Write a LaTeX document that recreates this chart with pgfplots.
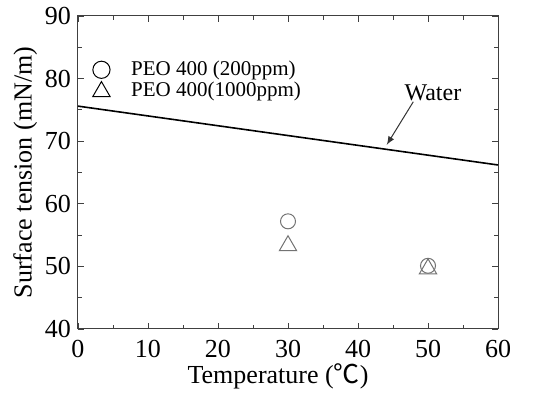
\documentclass[border=0pt]{standalone}
\usepackage{fontspec}
\setmainfont{Liberation Serif}
\newfontfamily\cjk{Noto Sans CJK SC}
\usepackage{pgfplots}
\pgfplotsset{compat=1.18}
\begin{document}
\begin{tikzpicture}
\begin{axis}[
  scale only axis,
  width=210pt, height=156.5pt,
  xmin=0, xmax=60, ymin=40, ymax=90,
  xtick={0,10,...,60}, ytick={40,50,...,90},
  minor x tick num=1, minor y tick num=1,
  tick align=inside,
  major tick length=3pt, minor tick length=2pt,
  axis line style={black!75, line width=0.5pt},
  every tick/.style={black!75, line width=0.4pt},
  /pgf/number format/assume math mode=true,
  tick label style={font=\fontsize{13}{15}\selectfont},
  xticklabel style={yshift=-2pt},
  xlabel={Temperature\ ({\cjk ℃})},
  ylabel={Surface tension (mN/m)},
  label style={font=\fontsize{13}{15}\selectfont},
  xlabel style={yshift=4pt, xshift=-5pt},
  ylabel style={yshift=-3pt},
  clip=false,
  legend style={at={(rel axis cs:0.02,0.877)}, anchor=north west, draw=none, fill=none,
    font=\fontsize{10.5}{12}\selectfont,
    nodes={text height=7.6pt, text depth=2.3pt, inner sep=0.5pt},
    /tikz/every odd column/.append style={column sep=10pt}},
  legend cell align=left,
]
\path (rel axis cs:-0.1857,-0.1853) rectangle (rel axis cs:1.1095,1.0511);
\addlegendimage{only marks, mark=o, black, mark size=4.3pt, line width=0.5pt}
\addlegendentry{PEO 400 (200ppm)}
\addlegendimage{only marks, mark=triangle, black, mark size=5pt, line width=0.5pt}
\addlegendentry{PEO 400(1000ppm)}
\addplot[black, line width=0.8pt, forget plot] coordinates {(0,75.6) (60,66.2)};
\addplot[only marks, mark=o, black!55, mark size=3.75pt, line width=0.5pt, forget plot]
  coordinates {(30,57.2) (50,50.1)};
\addplot[only marks, mark=triangle, black!55, mark size=5pt, line width=0.5pt, forget plot]
  coordinates {(30,53.3) (50,49.6)};
\draw[-latex, black!80, line width=0.5pt] (axis cs:47.9,76.3) -- (axis cs:44.1,69.4);
\node[font=\fontsize{12}{14}\selectfont] at (axis cs:50.7,77.7) {Water};
\end{axis}
\end{tikzpicture}
\end{document}
